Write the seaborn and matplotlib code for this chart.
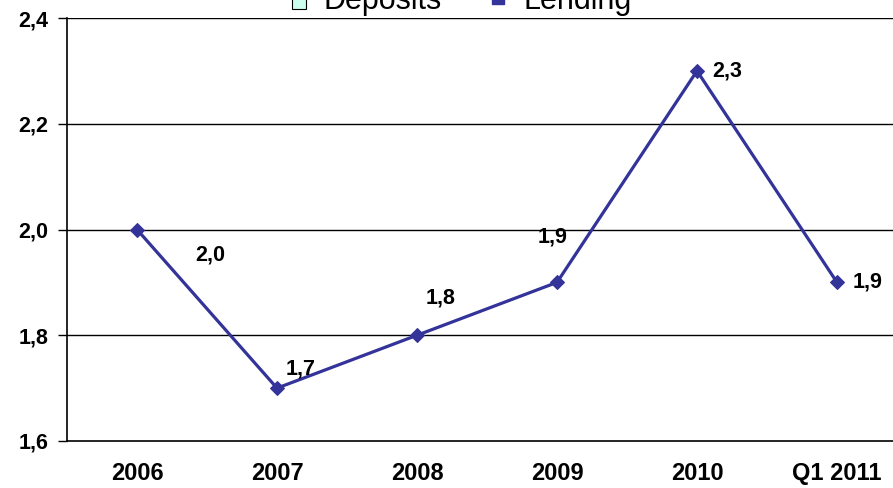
import matplotlib
matplotlib.use("Agg")
import matplotlib.pyplot as plt
import seaborn as sns
import pandas as pd
from matplotlib.patches import Patch
from matplotlib.lines import Line2D

categories = ["2006", "2007", "2008", "2009", "2010", "Q1 2011"]
lending = [2.0, 1.7, 1.8, 1.9, 2.3, 1.9]
value_labels = ["2,0", "1,7", "1,8", "1,9", "2,3", "1,9"]
yticks = [1.6, 1.8, 2.0, 2.2, 2.4]
ytick_labels = ["1,6", "1,8", "2,0", "2,2", "2,4"]
legend_labels = ["Deposits", "Lending"]

sns.set_theme(style="white")
plt.rcParams['font.family'] = ['Liberation Sans', 'DejaVu Sans']
plt.rcParams['text.color'] = 'black'
plt.rcParams['xtick.color'] = 'black'
plt.rcParams['ytick.color'] = 'black'
plt.rcParams['axes.labelcolor'] = 'black'

df = pd.DataFrame({"cat": categories, "val": lending, "x": range(len(categories))})

fig = plt.figure(figsize=(8.93, 4.88), dpi=100)
ax = fig.add_axes([67/893, 47/488, 840/893, 423/488])

color = "#333399"
sns.lineplot(data=df, x="x", y="val", ax=ax, color=color, lw=2.3, marker="D",
             markersize=7.5, markeredgecolor=color, markerfacecolor=color)

ax.set_xlim(-0.5, 5.5)
ax.set_ylim(1.6, 2.4)
ax.set_yticks(yticks)
ax.set_yticklabels(ytick_labels, fontsize=15.5, fontweight="bold", color="black")
ax.set_xticks(range(len(categories)))
ax.set_xticklabels(categories, fontsize=17, fontweight="bold", color="black")
ax.set_xlabel("")
ax.set_ylabel("")
for t in yticks[1:]:
    ax.axhline(t, color="black", lw=1, zorder=0)
for s in ["top", "right"]:
    ax.spines[s].set_visible(False)
for s in ["left", "bottom"]:
    ax.spines[s].set_color("black")
    ax.spines[s].set_linewidth(1.2)
ax.tick_params(axis="y", length=6.5, width=1, color="black", direction="out", left=True, pad=7)
ax.tick_params(axis="x", length=0, pad=15)

offsets = [(42, -18), (6, 14), (6, 27), (-14, 33), (11, 0), (11, 0)]
for i, (v, lab) in enumerate(zip(lending, value_labels)):
    ax.annotate(lab, (i, v), xytext=offsets[i], textcoords="offset points",
                fontsize=15.5, fontweight="bold", ha="left", va="center", color="black")

handles = [Patch(facecolor="#ccffee", edgecolor="black", lw=0.8),
           Line2D([0], [0], color=color, lw=0, marker="s", markersize=8)]
fig.legend(handles, legend_labels, loc="lower center",
           bbox_to_anchor=(0.517, 0.968), ncol=2, frameon=False,
           prop={"size": 22}, handlelength=0.45, handletextpad=0.6,
           columnspacing=1.6, borderpad=0, borderaxespad=0, labelcolor="black")

fig.savefig("out.png", dpi=100)
